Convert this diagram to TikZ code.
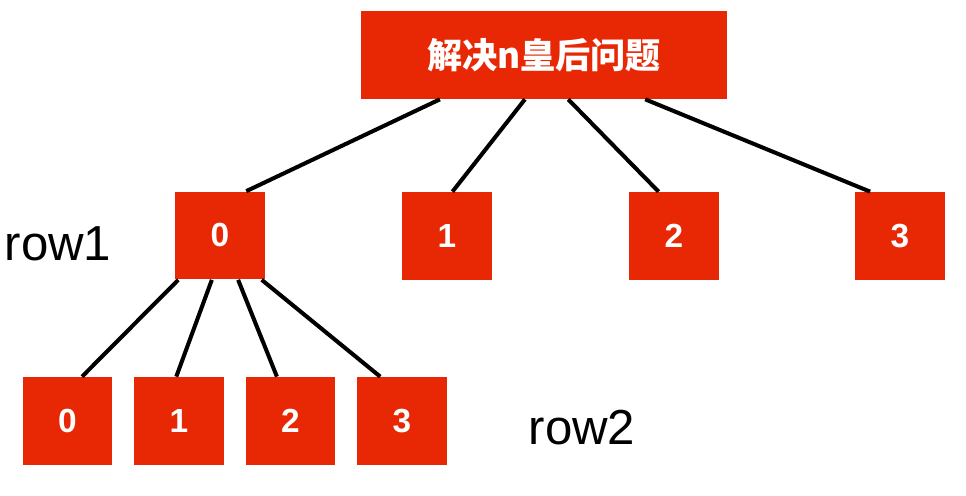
\documentclass[tikz,border=0pt]{standalone}
\usepackage{fontspec}
\setmainfont{Liberation Sans}
\newfontfamily\cjk{Noto Sans CJK SC}
\usepackage{tikz}
\usetikzlibrary{calc}
\definecolor{boxred}{RGB}{232,40,4}
\tikzset{
  qbox/.style={fill=boxred, draw=none, text=white, font=\bfseries\fontsize{19pt}{19pt}\selectfont, minimum width=1.8cm, minimum height=1.76cm, inner sep=0pt},
  rootbox/.style={qbox, minimum width=7.32cm, font=\cjk\bfseries\fontsize{20pt}{20pt}\selectfont},
  rowlabel/.style={font=\fontsize{28pt}{28pt}\selectfont, inner sep=0pt},
  link/.style={line width=2.3pt, black}
}
\newcommand{\link}[4]{\draw[link] ($(#1.south west)!#2!(#1.south east)$) -- ($(#3.north west)!#4!(#3.north east)$);}

\begin{document}
\begin{tikzpicture}[x=0.02cm, y=-0.02cm]
        \useasboundingbox (0,0) rectangle (966,496);
        \node[rootbox] (root) at (544,55) {解决n皇后问题};
        \node[qbox] (a0) at (220,235.5) {0};
        \node[qbox] (a1) at (447,236) {1};
        \node[qbox] (a2) at (674,236) {2};
        \node[qbox] (a3) at (900,236) {3};
        \node[qbox] (b0) at (67.5,421) {0};
        \node[qbox] (b1) at (179,421) {1};
        \node[qbox] (b2) at (290.5,421) {2};
        \node[qbox] (b3) at (402,421) {3};
        \node[rowlabel] (row1) at (58,244) {row1};
        \node[rowlabel] (row2) at (582,428) {row2};
        \link{root}{0.216}{a0}{0.79}
        \link{root}{0.448}{a1}{0.56}
        \link{root}{0.566}{a2}{0.33}
        \link{root}{0.776}{a3}{0.17}
        \link{a0}{0.04}{b0}{0.66}
        \link{a0}{0.41}{b1}{0.47}
        \link{a0}{0.70}{b2}{0.35}
        \link{a0}{0.96}{b3}{0.26}
    \end{tikzpicture}
\end{document}
